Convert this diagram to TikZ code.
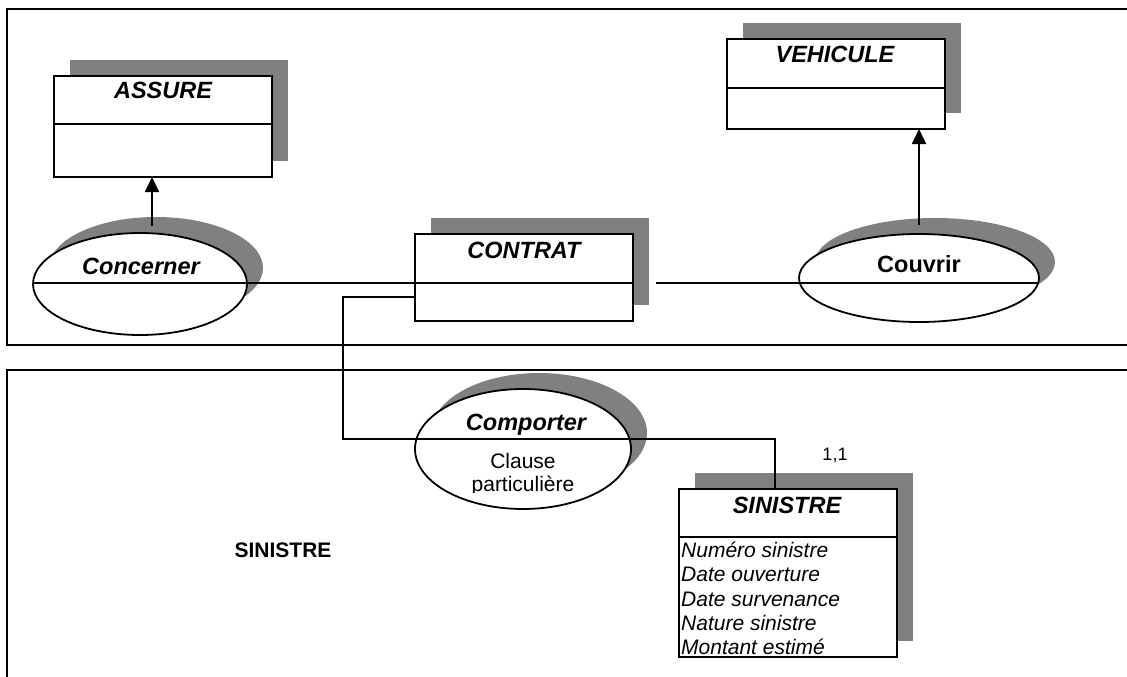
\documentclass[tikz,border=0pt]{standalone}
\usepackage{fontspec}
\setmainfont{Liberation Sans}
\usetikzlibrary{shapes.geometric,arrows.meta,calc,backgrounds}
\begin{document}
\begin{tikzpicture}[x=1pt,y=-1pt,
  lw/.style={line width=1.8pt},
  ent/.style={draw,fill=white,line width=1.8pt,minimum width=218pt,anchor=north west,inner sep=0pt,outer sep=0pt},
  rel/.style={ellipse,draw,fill=white,line width=1.8pt,inner sep=0pt,outer sep=0pt},
  shad/.style={fill=black!50},
  arr/.style={line width=1.8pt,-{Triangle[length=15pt,width=14pt]}},
  ttl/.style={font=\fontsize{23.5}{26}\selectfont\bfseries\itshape,anchor=base,inner sep=0pt},
  ttlb/.style={font=\fontsize{23.5}{26}\selectfont\bfseries,anchor=base,inner sep=0pt},
  txt/.style={font=\fontsize{21}{24}\selectfont,anchor=base,inner sep=0pt},
  attr/.style={font=\fontsize{21}{24}\selectfont\itshape,anchor=base west,inner sep=0pt},
  lbl/.style={font=\fontsize{21}{24}\selectfont\bfseries,anchor=base,inner sep=0pt},
  card/.style={font=\fontsize{18}{21}\selectfont,anchor=base,inner sep=0pt}
]
\useasboundingbox (0,0) rectangle (1127,677);

% frames
\draw[lw] (1127,9) -- (7,9) -- (7,345) -- (1127,345);
\draw[lw] (1127,370) -- (7,370) -- (7,677);

% entities
\node[ent,minimum height=101pt] (assure) at (54,76) {};
\node[ent,minimum height=87pt] (contrat) at (415,234) {};
\node[ent,minimum height=90pt] (vehicule) at (727,39) {};
\node[ent,minimum height=168pt] (sinistre) at (679,489) {};

% relations
\node[rel,minimum width=214pt,minimum height=102pt] (concerner) at (140,284) {};
\node[rel,minimum width=240pt,minimum height=88pt] (couvrir) at (919,278) {};
\node[rel,minimum width=216pt,minimum height=120pt] (comporter) at (523,449) {};

% shadows
\begin{scope}[on background layer]
\foreach \n in {assure,contrat,vehicule,sinistre}
  \fill[shad] ($(\n.north west)+(16,-16)$) rectangle ($(\n.south east)+(16,-16)$);
\fill[shad] ($(concerner.center)+(16,-16)$) ellipse [x radius=107, y radius=51];
\fill[shad] ($(couvrir.center)+(16,-16)$) ellipse [x radius=120, y radius=44];
\fill[shad] ($(comporter.center)+(16,-16)$) ellipse [x radius=108, y radius=60];
\end{scope}

% dividers
\draw[lw] ($(assure.north west)+(0,48)$) -- ($(assure.north east)+(0,48)$);
\draw[lw] ($(contrat.north west)+(0,49)$) -- ($(contrat.north east)+(0,49)$);
\draw[lw] ($(vehicule.north west)+(0,49)$) -- ($(vehicule.north east)+(0,49)$);
\draw[lw] ($(sinistre.north west)+(0,48)$) -- ($(sinistre.north east)+(0,48)$);

% connectors
\coordinate (kc) at ($(concerner.west)+(0,-1)$);
\draw[lw] (kc) -- (kc -| contrat.west);
\coordinate (kv) at ($(contrat.north east)+(23,49)$);
\draw[lw] (kv) -- ($(couvrir.west)+(1,5)$) -- ($(couvrir.east)+(-1,5)$);
\coordinate (cA) at ($(contrat.north west)+(0,63)$);
\coordinate (cB) at ($(comporter.west)+(-72,-10)$);
\coordinate (sT) at ($(sinistre.north west)+(96,0)$);
\draw[lw] (cA) -| (cB) -| (sT);

% arrows
\coordinate (a1) at ($(concerner.north)+(12,-7)$);
\draw[arr] (a1) -- (a1 |- assure.south);
\coordinate (a2) at ($(couvrir.north)+(0,-9)$);
\draw[arr] (a2) -- (a2 |- vehicule.south);

% texts
\node[ttl] (tAssure) at (163,99) {ASSURE};
\node[ttl] (tContrat) at (524,258) {CONTRAT};
\node[ttl] (tVehicule) at (835,63) {VEHICULE};
\node[ttl] (tSinistre) at (787,513) {SINISTRE};
\node[ttl] (tConcerner) at (141,274) {Concerner};
\node[ttlb] (tCouvrir) at (919,272) {Couvrir};
\node[ttl] (tComporter) at (526,430) {Comporter};
\node[txt] (tClause) at (523,468) {Clause};
\begin{scope}
\clip (400,380) rectangle (650,492);
\node[txt] (tPart) at (523,491) {particulière};
\end{scope}
\node[card] (tCard) at (835,460) {1,1};
\node[lbl] (tSinLbl) at (283,557) {SINISTRE};

\node[attr] (at1) at (681,557) {Numéro sinistre};
\node[attr] (at2) at (681,581) {Date ouverture};
\node[attr] (at3) at (681,606) {Date survenance};
\node[attr] (at4) at (681,630) {Nature sinistre};
\node[attr] (at5) at (681,654) {Montant estimé};
\end{tikzpicture}
\end{document}
